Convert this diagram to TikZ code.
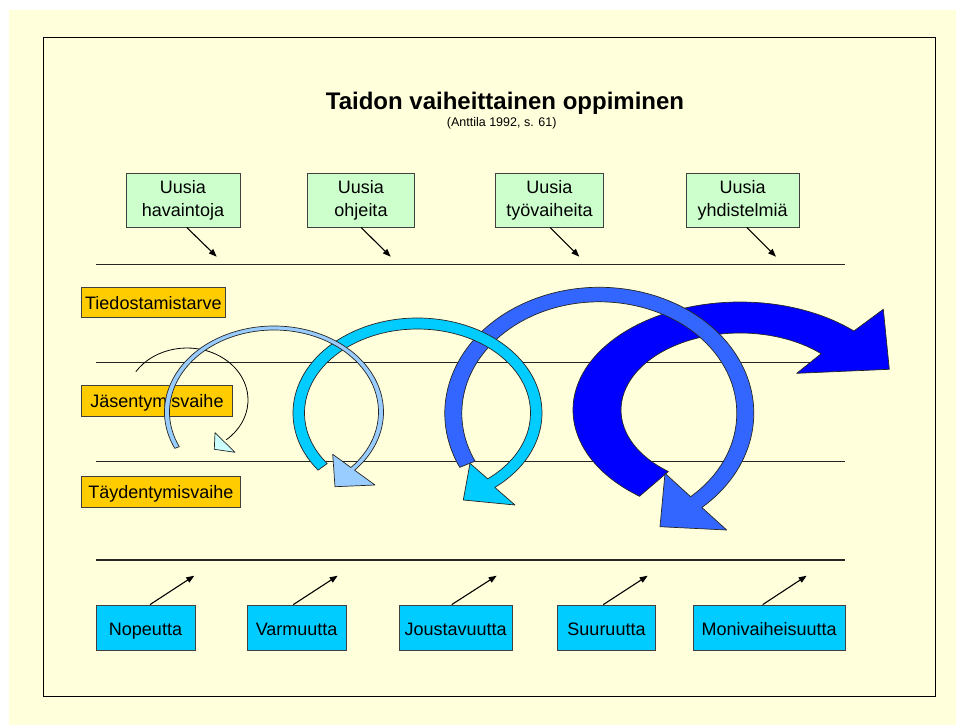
\documentclass[tikz,border=0pt]{standalone}
\usepackage{fontspec}
\setmainfont{Liberation Sans}
\usetikzlibrary{arrows.meta,calc}
\definecolor{bg}{HTML}{FFFFDC}
\definecolor{cTop}{HTML}{CCFFCC}
\definecolor{cLab}{HTML}{FFCC00}
\definecolor{cBot}{HTML}{00CCFF}
\definecolor{cA}{HTML}{CCFFFF}
\definecolor{cB}{HTML}{99CCFF}
\definecolor{cC}{HTML}{00CCFF}
\definecolor{cD}{HTML}{3366FF}
\definecolor{cE}{HTML}{0000FF}
\tikzset{
  boxbase/.style={draw=black!75, line width=0.8, inner sep=0pt, align=center},
  topbox/.style={boxbase, fill=cTop, minimum height=54, font=\fontsize{18}{23.3}\selectfont},
  labbox/.style={boxbase, fill=cLab, minimum height=30.5, text height=14.6, text depth=1.2, font=\fontsize{18}{21}\selectfont},
  botbox/.style={boxbase, fill=cBot, minimum height=45.7, text height=15.5, text depth=1.2, font=\fontsize{18}{21}\selectfont},
  hline/.style={draw=black!85, line width=1.1},
  smallarrow/.style={draw=black, line width=1.1, -{Triangle[length=8pt,width=6pt]}},
  band/.style={draw=black!85, line width=0.7, line join=round},
}
\begin{document}
\begin{tikzpicture}[x=1pt,y=1pt]
\useasboundingbox (0,0) rectangle (956,-725);
\fill[white] (0,0) rectangle (956,-725);
\fill[bg] (9,-10) rectangle (956,-725);
\draw[line width=1.3] (43.3,-37.7) rectangle (935.7,-696.3);

% title
\node[font=\bfseries\fontsize{24}{28}\selectfont, anchor=base, inner sep=0] (title) at (505,-110) {Taidon vaiheittainen oppiminen};
\node[font=\fontsize{12.5}{15}\selectfont, anchor=base, inner sep=0] (sub) at (501.7,-126) {(Anttila 1992, s. 61)};

% horizontal lines
\draw[hline] (96,-264.3) -- (845,-264.3);
\draw[hline] (96,-362.7) -- (845,-362.7);
\draw[hline] (96,-461.7) -- (845,-461.7);
\draw[hline] (96,-560) -- (845,-560);

% top boxes
\node[topbox, minimum width=114] (t1) at (183,-200) {Uusia\\havaintoja};
\node[topbox, minimum width=106.6] (t2) at (361,-200) {Uusia\\ohjeita};
\node[topbox, minimum width=107.6] (t3) at (549.5,-200) {Uusia\\työvaiheita};
\node[topbox, minimum width=113.3] (t4) at (742.7,-200) {Uusia\\yhdistelmiä};
\coordinate (e1) at (216.7,-256.7);
\coordinate (e2) at (390.7,-256.7);
\coordinate (e3) at (579.3,-256.7);
\coordinate (e4) at (776,-256.7);
\draw[smallarrow] (t1.south -| 186.7,0) -- (e1);
\draw[smallarrow] (t2.south -| 361,0) -- (e2);
\draw[smallarrow] (t3.south -| 550,0) -- (e3);
\draw[smallarrow] (t4.south -| 746.7,0) -- (e4);

% level labels
\node[labbox, minimum width=143.3] (l1) at (153.35,-302.5) {Tiedostamistarve};
\node[labbox, minimum width=150.6] (l2) at (157,-401) {Jäsentymisvaihe};
\node[labbox, minimum width=158.3] (l3) at (160.85,-492) {Täydentymisvaihe};

% bottom boxes
\node[botbox, minimum width=99] (b1) at (145.5,-627.85) {Nopeutta};
\node[botbox, minimum width=98.7] (b2) at (296.65,-627.85) {Varmuutta};
\node[botbox, minimum width=113.3] (b3) at (455.65,-627.85) {Joustavuutta};
\node[botbox, minimum width=98.4] (b4) at (606.5,-627.85) {Suuruutta};
\node[botbox, minimum width=151.7] (b5) at (769.15,-627.85) {Monivaiheisuutta};
\coordinate (f1) at (194.3,-575.7);
\coordinate (f2) at (337.7,-575.7);
\coordinate (f3) at (496.7,-575.7);
\coordinate (f4) at (647.7,-575.7);
\coordinate (f5) at (806.7,-575.7);
\draw[smallarrow] (b1.north -| 150,0) -- (f1);
\draw[smallarrow] (b2.north -| 293.3,0) -- (f2);
\draw[smallarrow] (b3.north -| 451.7,0) -- (f3);
\draw[smallarrow] (b4.north -| 603.3,0) -- (f4);
\draw[smallarrow] (b5.north -| 762.7,0) -- (f5);

% arrow A (thin)
\draw[line width=0.8] ($(187,-400)+(147:61 and 52)$) arc[start angle=147, end angle=-50, x radius=61, y radius=52];
\filldraw[band, fill=cA] (215,-432.7) -- (214.3,-449.3) -- (235,-452.3) -- cycle;

% arrow E (widest)
\filldraw[band, fill=cE] ($(740,-410)+(233:167 and 108)$) arc[start angle=233, end angle=47, x radius=167, y radius=108]
  -- (883.3,-309.3) -- (889.3,-369.3) -- (796.7,-373.3)
  -- ($(740,-410)+(47:119 and 77)$) arc[start angle=47, end angle=233, x radius=119, y radius=77] -- cycle;

% arrow D
\filldraw[band, fill=cD] ($(599.3,-413.3)+(205.4:154.5 and 126)$) arc[start angle=205.4, end angle=-48.4, x radius=154.5, y radius=126]
  -- (726.7,-530) -- (660,-526.7) -- (665,-473.3)
  -- ($(599.3,-413.3)+(-48.4:137.5 and 111.5)$) arc[start angle=-48.4, end angle=205.4, x radius=137.5, y radius=111.5] -- cycle;

% arrow C
\filldraw[band, fill=cC] ($(417.5,-413)+(217:124.5 and 95)$) arc[start angle=217, end angle=-51.6, x radius=124.5, y radius=95]
  -- (515,-505) -- (463.3,-500) -- (470,-463.3)
  -- ($(417.5,-413)+(-51.6:113 and 84)$) arc[start angle=-51.6, end angle=217, x radius=113, y radius=84] -- cycle;

% arrow B
\filldraw[band, fill=cB] ($(274,-412)+(205:109.5 and 86)$) arc[start angle=205, end angle=-42.6, x radius=109.5, y radius=86]
  -- (375,-485) -- (335,-486.7) -- (332.7,-454.3)
  -- ($(274,-412)+(-42.6:104.5 and 82)$) arc[start angle=-42.6, end angle=205, x radius=104.5, y radius=82] -- cycle;
\end{tikzpicture}
\end{document}
